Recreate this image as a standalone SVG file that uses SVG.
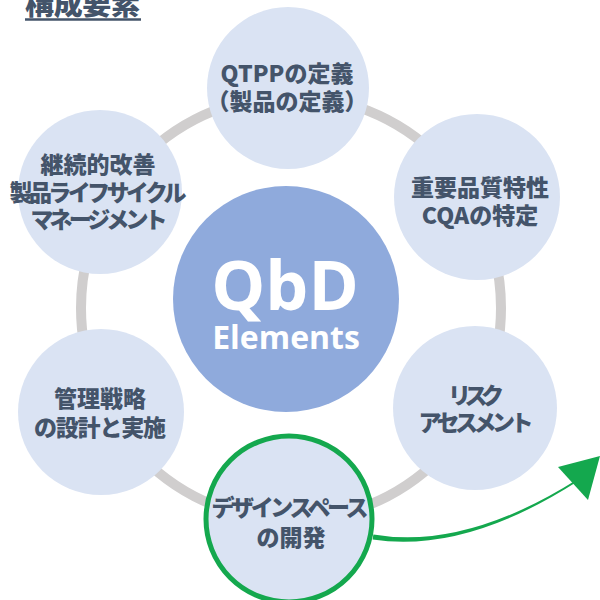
<svg xmlns="http://www.w3.org/2000/svg" width="600" height="600" viewBox="0 0 600 600">
<style>
.node{fill:#dae3f3}
.lbl{font-family:"Noto Sans CJK JP","Noto Sans",sans-serif;font-weight:900;font-size:23px;fill:#44546a;text-anchor:middle}
.ring{fill:none;stroke:#d0cece;stroke-width:10}
.green{fill:#14a84e}
</style>
<rect width="600" height="600" fill="#ffffff"/>
<g id="title">
<text x="25" y="14.5" style="font-family:'Noto Sans CJK JP',sans-serif;font-weight:900;font-size:29px;fill:#44546a" textLength="115">構成要素</text>
<line x1="25" y1="19.5" x2="141" y2="19.5" stroke="#44546a" stroke-width="2.5"/>
</g>
<g id="ring">
<ellipse class="ring" cx="291" cy="308" rx="210" ry="212"/>
</g>
<g id="node-qtpp">
<circle class="node" cx="288" cy="88" r="81"/>
<text class="lbl" x="287" y="81.5" textLength="133">QTPPの定義</text>
<text class="lbl" x="287" y="109.5">（製品の定義）</text>
</g>
<g id="node-cqa">
<circle class="node" cx="477" cy="197" r="83"/>
<text class="lbl" x="480" y="195.5">重要品質特性</text>
<text class="lbl" x="480" y="223.5">CQAの特定</text>
</g>
<g id="node-risk">
<circle class="node" cx="475" cy="408" r="82"/>
<text class="lbl" x="476" y="403.5" textLength="56">リスク</text>
<text class="lbl" x="476" y="430.5" textLength="115">アセスメント</text>
</g>
<g id="node-design">
<circle class="node" cx="289" cy="519" r="83" stroke="#14a84e" stroke-width="5"/>
<text class="lbl" x="290" y="515.5" textLength="157">デザインスペース</text>
<text class="lbl" x="291" y="545.5">の開発</text>
</g>
<g id="node-control">
<circle class="node" cx="101" cy="412" r="83"/>
<text class="lbl" x="100" y="406.5">管理戦略</text>
<text class="lbl" x="100" y="435.5" textLength="132">の設計と実施</text>
</g>
<g id="node-lifecycle">
<circle class="node" cx="100" cy="192" r="82"/>
<text class="lbl" x="98" y="172.5">継続的改善</text>
<text class="lbl" x="98" y="200.5" textLength="177">製品ライフサイクル</text>
<text class="lbl" x="99" y="227.5" textLength="137">マネージメント</text>
</g>
<g id="node-center">
<circle cx="286" cy="299" r="113" fill="#8faadc"/>
<text x="285" y="310" style="font-family:'Open Sans',sans-serif;font-weight:bold;font-size:68px;fill:#ffffff;text-anchor:middle">QbD</text>
<text x="286" y="349" style="font-family:'Open Sans',sans-serif;font-weight:bold;font-size:32px;fill:#ffffff;text-anchor:middle">Elements</text>
</g>
<g id="connectors">
<path class="green" d="M373.4,534.5 Q465,550.3 577.5,479.2 L578.5,480.8 Q465,553.7 372.6,539.5 Z"/>
<polygon class="green" points="600,456 558,467 588,500"/>
</g>
</svg>
